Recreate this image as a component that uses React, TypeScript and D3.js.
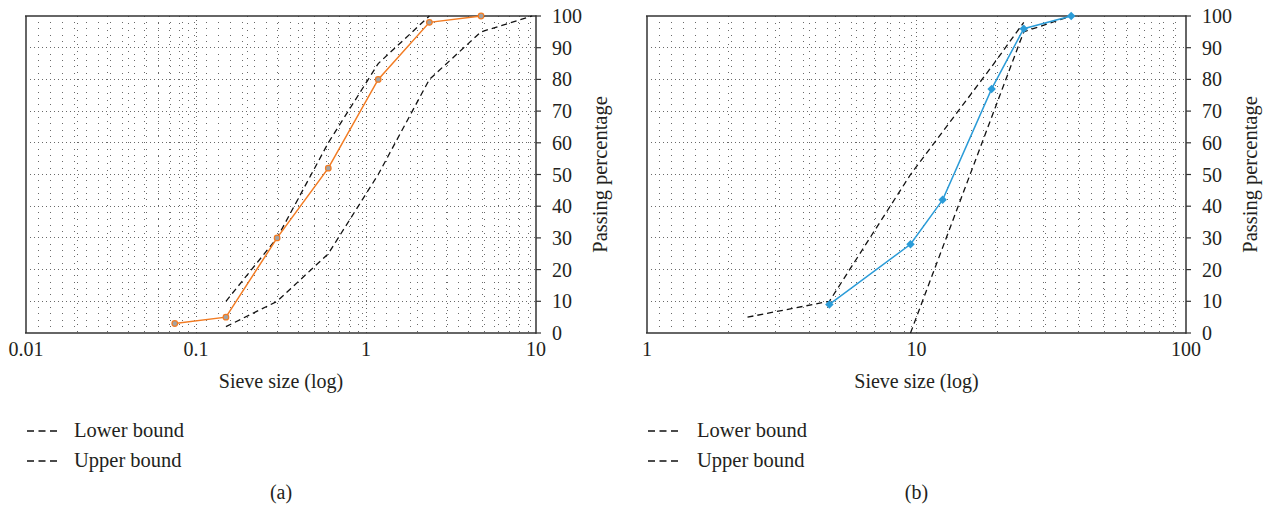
import React from 'react';
import * as d3 from 'd3';

// shared y axis
const yTicks = [0, 10, 20, 30, 40, 50, 60, 70, 80, 90, 100];

// (a) fine aggregate
const xLabelsA = ['0.01', '0.1', '1', '10'];
const sizesA = [0.075, 0.15, 0.3, 0.6, 1.18, 2.36, 4.75];
const passingA = [3, 5, 30, 52, 80, 98, 100];
const lowerSizesA = [0.15, 0.3, 0.6, 1.18, 2.36, 4.75, 9.5];
const lowerA = [2, 10, 25, 50, 80, 95, 100];
const upperSizesA = [0.15, 0.3, 0.6, 1.18, 2.36];
const upperA = [10, 30, 60, 85, 100];

// (b) coarse aggregate
const xLabelsB = ['1', '10', '100'];
const sizesB = [4.75, 9.5, 12.5, 19, 25, 37.5];
const passingB = [9, 28, 42, 77, 96, 100];
const lowerSizesB = [9.5, 25, 37.5];
const lowerB = [0, 95, 100];
const upperSizesB = [2.36, 4.75, 9.5, 19, 25];
const upperB = [5, 10, 50, 84, 98];

const FONT = '"Liberation Serif", "DejaVu Serif", serif';
const INK = '#231f20';
const TOP = 16;
const BOTTOM = 333;

const pairs = (xs: number[], ys: number[]): [number, number][] => xs.map((v, i) => [v, ys[i]]);

type PanelProps = {
  left: number;
  right: number;
  domain: [number, number];
  xLabels: string[];
  sizes: number[];
  passing: number[];
  lower: [number, number][];
  upper: [number, number][];
  color: string;
  marker: 'circle' | 'diamond';
  legendX: number;
  legendTextX: number;
  caption: string;
};

function Panel(p: PanelProps) {
  const x = d3.scaleLog().domain(p.domain).range([p.left, p.right]);
  const y = d3.scaleLinear().domain([0, 100]).range([BOTTOM, TOP]);
  const line = d3.line<[number, number]>().x(d => x(d[0])).y(d => y(d[1]));

  const d0 = Math.round(Math.log10(p.domain[0]));
  const d1 = Math.round(Math.log10(p.domain[1]));
  const majorX = d3.range(d0, d1 + 1).map(e => Math.pow(10, e));
  const minorX: number[] = [];
  d3.range(d0, d1).forEach(e => {
    for (let k = 2; k <= 9; k++) minorX.push(k * Math.pow(10, e));
  });
  const minorY = d3.range(0, 101, 2).filter(v => v % 10 !== 0);

  const cx = (p.left + p.right) / 2;
  const diamond = d3.symbol().type(d3.symbolSquare).size(36)();

  return (
    <g>
      {/* dotted grid */}
      <g stroke="#444" strokeOpacity={0.8} strokeWidth={1} shapeRendering="crispEdges">
        {minorY.map(v => (
          <line key={'hy' + v} x1={p.left} x2={p.right} y1={y(v)} y2={y(v)} strokeDasharray="1,11" />
        ))}
        {minorX.map(v => (
          <line key={'vx' + v} x1={x(v)} x2={x(v)} y1={TOP} y2={BOTTOM} strokeDasharray="1,6" />
        ))}
        {yTicks.slice(1, -1).map(v => (
          <line key={'HY' + v} x1={p.left} x2={p.right} y1={y(v)} y2={y(v)} strokeDasharray="1,3" />
        ))}
        {majorX.slice(1, -1).map(v => (
          <line key={'VX' + v} x1={x(v)} x2={x(v)} y1={TOP} y2={BOTTOM} strokeDasharray="1,3" />
        ))}
      </g>

      {/* frame */}
      <line x1={p.left} x2={p.left} y1={TOP} y2={BOTTOM} stroke="#666" strokeWidth={2} />
      <line x1={p.left - 1} x2={p.right} y1={TOP} y2={TOP} stroke="#333" strokeWidth={1.5} />
      <line x1={p.left - 1} x2={p.right} y1={BOTTOM} y2={BOTTOM} stroke="#333" strokeWidth={1.5} />
      <line x1={p.right} x2={p.right} y1={TOP - 0.75} y2={BOTTOM + 0.75} stroke="#333" strokeWidth={1.5} />
      {yTicks.map(v => (
        <line key={'t' + v} x1={p.right} x2={p.right + 5} y1={y(v)} y2={y(v)} stroke="#333" strokeWidth={1.2} />
      ))}

      {/* bounds */}
      <path d={line(p.lower) || ''} fill="none" stroke="#111" strokeWidth={1.3} strokeDasharray="6,4" />
      <path d={line(p.upper) || ''} fill="none" stroke="#111" strokeWidth={1.3} strokeDasharray="6,4" />

      {/* measured gradation */}
      <path d={line(pairs(p.sizes, p.passing)) || ''} fill="none" stroke={p.color} strokeWidth={1.5} />
      {p.sizes.map((s, i) =>
        p.marker === 'circle' ? (
          <circle key={'m' + i} cx={x(s)} cy={y(p.passing[i])} r={2.8} fill="#a3a3a3" stroke={p.color} strokeWidth={1.2} />
        ) : (
          <path
            key={'m' + i}
            d={diamond || ''}
            transform={`translate(${x(s)},${y(p.passing[i])}) rotate(45)`}
            fill={p.color}
          />
        )
      )}

      {/* tick labels */}
      <g fontFamily={FONT} fontSize={20} fill={INK}>
        {yTicks.map(v => (
          <text key={'yl' + v} x={p.right + 16} y={y(v)} dy="0.35em">{v}</text>
        ))}
        {majorX.map((v, i) => (
          <text key={'xl' + v} x={x(v)} y={356} textAnchor="middle">{p.xLabels[i]}</text>
        ))}
      </g>

      {/* axis titles */}
      <text x={cx} y={388} textAnchor="middle" fontFamily={FONT} fontSize={20} fill={INK}>Sieve size (log)</text>
      <text
        transform={`translate(${p.right + 71},${(TOP + BOTTOM) / 2}) rotate(-90)`}
        textAnchor="middle"
        fontFamily={FONT}
        fontSize={20.5}
        fill={INK}
      >
        Passing percentage
      </text>

      {/* legend */}
      {['Lower bound', 'Upper bound'].map((lab, i) => (
        <g key={lab}>
          <line
            x1={p.legendX}
            x2={p.legendX + 30}
            y1={431 + i * 30}
            y2={431 + i * 30}
            stroke="#111"
            strokeWidth={1.3}
            strokeDasharray="7,4.5"
          />
          <text x={p.legendTextX} y={437 + i * 30} fontFamily={FONT} fontSize={20.5} fill={INK}>{lab}</text>
        </g>
      ))}

      <text x={cx} y={499} textAnchor="middle" fontFamily={FONT} fontSize={20} fill={INK}>{p.caption}</text>
    </g>
  );
}

export default function App() {
  return (
    <svg
      width={1272}
      height={513}
      style={{ position: 'absolute', left: 0, top: 0, background: '#fff' }}
    >
      <rect width={1272} height={513} fill="#fff" />
      <Panel
        left={26}
        right={536}
        domain={[0.01, 10]}
        xLabels={xLabelsA}
        sizes={sizesA}
        passing={passingA}
        lower={pairs(lowerSizesA, lowerA)}
        upper={pairs(upperSizesA, upperA)}
        color="#f27b22"
        marker="circle"
        legendX={27}
        legendTextX={74}
        caption="(a)"
      />
      <Panel
        left={647}
        right={1186}
        domain={[1, 100]}
        xLabels={xLabelsB}
        sizes={sizesB}
        passing={passingB}
        lower={pairs(lowerSizesB, lowerB)}
        upper={pairs(upperSizesB, upperB)}
        color="#2b9cd8"
        marker="diamond"
        legendX={648}
        legendTextX={697}
        caption="(b)"
      />
    </svg>
  );
}
